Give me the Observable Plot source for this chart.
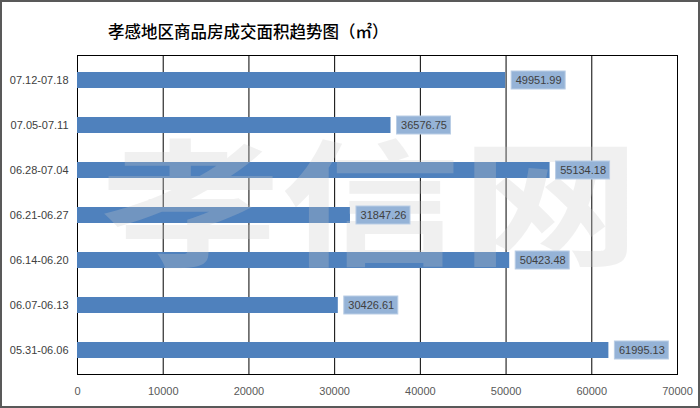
<!DOCTYPE html>
<html>
<head>
<meta charset="utf-8">
<script src="https://cdn.jsdelivr.net/npm/d3@7"></script>
<script src="https://cdn.jsdelivr.net/npm/@observablehq/plot@0.6"></script>
<style>
  html, body { margin: 0; padding: 0; background: #fff; }
  #chart {
    width: 700px; height: 408px; box-sizing: border-box;
    border: 2px solid #595959; background: #fff; position: relative; overflow: hidden;
  }
  #title {
    height: 52px; box-sizing: border-box; padding-top: 21px; padding-left: 106px;
    font-family: "Noto Sans CJK SC", sans-serif; font-size: 16.5px; line-height: 17px;
    font-weight: 500; color: #000; white-space: nowrap;
  }
  svg { display: block; }
</style>
</head>
<body>
<div id="chart"><div id="title">孝感地区商品房成交面积趋势图（㎡）</div></div>
<script>
const categories = ["05.31-06.06", "06.07-06.13", "06.14-06.20", "06.21-06.27", "06.28-07.04", "07.05-07.11", "07.12-07.18"];
const values = [61995.13, 30426.61, 50423.48, 31847.26, 55134.18, 36576.75, 49951.99];
const xTicks = [0, 10000, 20000, 30000, 40000, 50000, 60000, 70000];
const watermark = ["孝信网"];

const data = categories.map((c, i) => ({cat: c, value: values[i]}));
const yDomain = categories.slice().reverse();

const plot = Plot.plot({
  width: 696,
  height: 352,
  marginLeft: 75,
  marginRight: 21,
  marginTop: 1,
  marginBottom: 32,
  style: {fontFamily: "'Liberation Sans', sans-serif", fontSize: "11px", background: "transparent"},
  x: {domain: [0, 70000], ticks: xTicks, label: null},
  y: {domain: yDomain, paddingInner: 0.65, paddingOuter: 0.325, label: null},
  marks: [
    Plot.ruleX(xTicks, {stroke: "#000", strokeWidth: 1}),
    Plot.frame({stroke: "#000"}),
    Plot.barX(data, {x: "value", y: "cat", fill: "#4f81bd"}),
    Plot.text(watermark, {
      frameAnchor: "middle", dx: -7, dy: -4, text: d => d,
      fontSize: 136, fontWeight: "bold", fontFamily: "Noto Sans CJK SC",
      fill: "#c8c8c8", fillOpacity: 0.28, className: "wm"
    }),
    Plot.barX(data, {
      x1: "value", x2: "value", y: "cat",
      insetLeft: 6, insetRight: -60, insetTop: -1, insetBottom: -1,
      fill: "#95b3d7", stroke: "#b9cde5", strokeWidth: 1
    }),
    Plot.text(data, {
      x: "value", y: "cat", text: d => d.value.toFixed(2),
      dx: 33, textAnchor: "middle", fill: "#404040", fontSize: 11
    }),
    Plot.axisX({ticks: xTicks, tickSize: 0, tickPadding: 13, tickFormat: d => String(d), color: "#595959"}),
    Plot.axisY({tickSize: 0, tickPadding: 9, color: "#404040"})
  ]
});

d3.select(plot).selectAll(".wm text")
  .attr("textLength", 540)
  .attr("lengthAdjust", "spacingAndGlyphs");

document.getElementById("chart").appendChild(plot);
</script>
</body>
</html>
